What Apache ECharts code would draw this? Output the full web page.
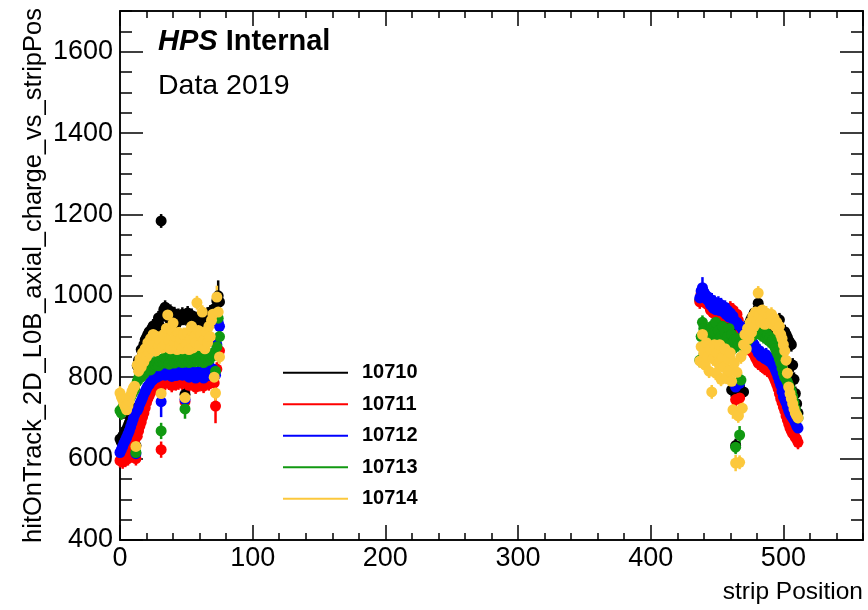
<!DOCTYPE html>
<html>
<head>
<meta charset="utf-8">
<script src="https://cdn.jsdelivr.net/npm/echarts@6/dist/echarts.min.js"></script>
<style>
html, body { margin: 0; padding: 0; background: #fff; }
#chart { width: 868px; height: 610px; }
</style>
</head>
<body>
<div id="chart"></div>
<script>
// runs and colours (ROOT style)
var runs = ['10710', '10711', '10712', '10713', '10714'];
var runColors = ['#000000', '#ff0000', '#0000ff', '#119911', '#fcc83c'];

// strip ranges: left block starts at strip 0, right block at strip 437
var leftStart = 0;
var rightStart = 437;

// mean charge per strip
var left10710 = [648,640,655,660,668,672,680,688,700,706,712,720,632,828,842,838,868,858,880,892,898,905,912,898,920,926,910,930,934,946,925,1184,950,966,972,960,955,944,962,950,940,956,946,936,952,940,948,955,945,758,944,958,950,940,952,946,935,944,940,932,948,938,945,950,936,942,955,948,960,952,958,968,940,988,1000,985];
var left10711 = [595,598,592,600,596,604,600,606,612,620,632,645,600,655,668,680,690,702,712,725,738,748,755,762,770,775,778,782,780,786,784,622,788,792,785,795,790,786,792,780,795,788,784,792,786,790,794,785,790,740,786,792,780,788,795,784,790,776,788,792,782,790,786,778,792,788,796,784,790,795,798,786,729,820,860,865];
var left10712 = [615,622,630,638,645,652,660,668,678,688,698,708,612,718,725,735,742,750,758,765,772,778,782,788,792,795,798,802,800,806,804,740,808,812,805,815,810,806,812,802,815,808,804,812,806,810,812,805,810,745,806,812,800,808,815,804,810,798,808,812,802,810,806,798,812,808,816,804,810,815,820,812,805,880,935,925];
var left10713 = [718,712,725,730,722,735,740,748,752,758,765,770,615,790,798,805,800,812,808,815,820,822,828,818,832,826,835,830,838,828,840,668,842,835,848,838,845,832,850,840,846,835,852,840,844,838,848,836,845,722,840,852,836,848,842,855,838,846,850,840,856,842,848,836,852,846,858,842,850,855,852,860,815,875,945,900];
var left10714 = [761,752,745,735,728,720,730,742,755,765,773,778,630,830,815,845,825,860,838,870,850,885,860,895,870,905,880,865,900,878,890,760,872,905,880,920,953,890,870,915,933,885,900,868,910,880,895,870,905,750,880,910,868,895,925,872,900,885,983,915,878,905,960,890,870,912,885,925,900,940,955,800,761,997,960,850];

var right10710 = [990,1002,1008,998,990,985,990,978,970,980,962,975,960,968,972,958,970,962,955,965,948,958,942,950,769,946,938,632,932,925,762,918,910,764,912,920,925,930,938,945,950,958,945,930,982,940,925,945,930,920,940,928,935,925,938,920,930,915,922,905,941,900,890,875,912,905,898,890,885,880,830,795,760,735,712];
var right10711 = [985,1005,1015,1000,995,980,985,975,965,975,958,970,955,962,968,952,962,955,948,958,945,960,952,970,960,965,950,745,955,940,749,915,905,895,900,885,890,875,880,865,860,855,848,842,835,840,830,835,826,822,830,818,822,812,815,805,798,790,782,772,760,748,738,727,718,705,695,685,675,668,662,658,652,648,640];
var right10712 = [995,1012,1020,1010,1004,992,998,985,978,990,970,984,966,976,982,964,978,968,960,972,954,964,948,958,946,950,938,776,935,928,785,925,918,905,915,900,910,895,905,890,885,880,872,868,860,865,852,858,850,846,855,842,848,838,842,830,825,818,810,800,790,780,765,752,745,738,728,718,710,705,700,695,688,680,675];
var right10713 = [842,900,935,920,890,905,880,915,895,925,880,910,935,890,915,870,900,925,885,910,875,900,920,880,905,870,893,628,895,880,658,793,885,900,875,905,890,895,910,900,915,905,908,915,922,910,905,918,900,912,896,905,890,898,885,892,878,870,862,855,845,835,822,810,800,795,788,780,772,765,752,738,722,708,700];
var right10714 = [840,875,905,860,830,885,850,815,870,764,845,880,810,860,835,880,795,850,825,870,800,845,815,860,790,720,835,589,812,705,591,850,724,880,905,870,920,895,935,910,950,925,960,940,1007,955,935,965,945,930,958,940,950,935,955,930,945,925,935,915,925,905,895,880,865,842,810,776,760,748,735,722,712,706,700];

// error bars: most are hidden under the markers, a few stick out
var defaultErr = 17;
var bigErr = [
  ['10710', 74, 38], ['10712', 31, 38], ['10711', 31, 20], ['10713', 31, 20],
  ['10711', 72, 42], ['10714', 73, 28], ['10714', 72, 25], ['10713', 49, 24],
  ['10712', 439, 26], ['10711', 438, 22], ['10714', 464, 20], ['10713', 467, 22],
  ['10714', 469, 22], ['10714', 462, 22]
];

var leftData = [left10710, left10711, left10712, left10713, left10714];
var rightData = [right10710, right10711, right10712, right10713, right10714];

var fontFam = '"Liberation Sans", Arial, Helvetica, sans-serif';

function errFor(run, strip) {
  for (var k = 0; k < bigErr.length; k++) {
    if (bigErr[k][0] === run && bigErr[k][1] === strip) return bigErr[k][2];
  }
  return defaultErr;
}

function points(r) {
  var pts = [];
  leftData[r].forEach(function (v, i) { pts.push([leftStart + i, v]); });
  rightData[r].forEach(function (v, i) { pts.push([rightStart + i, v]); });
  return pts;
}

var series = [];
runs.forEach(function (run, r) {
  var pts = points(r);
  var col = runColors[r];
  series.push({
    type: 'custom',
    name: run + ' err',
    silent: true,
    xAxisIndex: 0,
    yAxisIndex: 0,
    data: pts.map(function (p) { return [p[0], p[1], errFor(run, p[0])]; }),
    renderItem: function (params, api) {
      var x = api.value(0), y = api.value(1), e = api.value(2);
      var a = api.coord([x, y - e]);
      var b = api.coord([x, y + e]);
      return {
        type: 'line',
        shape: { x1: a[0], y1: a[1], x2: b[0], y2: b[1] },
        style: { stroke: col, lineWidth: 2.5 }
      };
    }
  });
  series.push({
    type: 'scatter',
    name: run,
    xAxisIndex: 0,
    yAxisIndex: 0,
    symbol: 'circle',
    symbolSize: 11,
    itemStyle: { color: col, opacity: 1 },
    data: pts
  });
});

var tickStyle = { color: '#000', width: 1.5 };

function xAx(pos, interval, len, withLabel) {
  var ax = {
    type: 'value', position: pos, min: 0, max: 560, interval: interval,
    axisLine: { show: true, onZero: false, lineStyle: { color: '#000', width: 1.5 } },
    axisTick: { show: true, inside: true, length: len, lineStyle: tickStyle },
    axisLabel: { show: false },
    splitLine: { show: false }
  };
  if (withLabel) {
    ax.axisLabel = { show: true, showMaxLabel: false, fontSize: 27, color: '#000', margin: 5, fontFamily: fontFam,
      formatter: function (v) { return String(v); } };
    ax.name = 'strip Position';
    ax.nameLocation = 'end';
    ax.nameGap = 0;
    ax.nameMoveOverlap = false;
    ax.nameTextStyle = { fontSize: 24.5, color: '#000', fontFamily: fontFam, align: 'right', verticalAlign: 'top', padding: [40, 0, 0, 0] };
  }
  return ax;
}

function yAx(pos, interval, len, withLabel) {
  var ax = {
    type: 'value', position: pos, min: 400, max: 1700, interval: interval,
    axisLine: { show: true, onZero: false, lineStyle: { color: '#000', width: 1.5 } },
    axisTick: { show: true, inside: true, length: len, lineStyle: tickStyle },
    axisLabel: { show: false },
    splitLine: { show: false }
  };
  if (withLabel) {
    ax.axisLabel = { show: true, showMaxLabel: false, fontSize: 27, color: '#000', margin: 7, fontFamily: fontFam,
      formatter: function (v) { return String(v); } };
    ax.name = 'hitOnTrack_2D_L0B_axial_charge_vs_stripPos';
    ax.nameLocation = 'middle';
    ax.nameRotate = 90;
    ax.nameGap = 86;
    ax.nameMoveOverlap = false;
    ax.nameTextStyle = { fontSize: 25.5, color: '#000', fontFamily: fontFam, verticalAlign: 'middle' };
  }
  return ax;
}

var chart = echarts.init(document.getElementById('chart'), null, { renderer: 'canvas' });
var option = {
  backgroundColor: '#ffffff',
  animation: false,
  grid: { left: 120, right: 5, top: 11, bottom: 70 },
  xAxis: [
    xAx('bottom', 100, 15, true),
    xAx('bottom', 20, 7, false),
    xAx('top', 100, 15, false),
    xAx('top', 20, 7, false)
  ],
  yAxis: [
    yAx('left', 200, 23, true),
    yAx('left', 50, 12, false),
    yAx('right', 200, 23, false),
    yAx('right', 50, 12, false)
  ],
  legend: {
    orient: 'vertical',
    left: 283,
    top: 362.7,
    padding: 0,
    itemWidth: 65,
    itemHeight: 2,
    itemGap: 11.5,
    selectedMode: false,
    icon: 'rect',
    data: runs,
    textStyle: { fontFamily: fontFam, fontWeight: 'bold', fontSize: 20, color: '#000', lineHeight: 20, padding: [0, 0, 0, 9] }
  },
  graphic: [
    {
      type: 'text', x: 158, y: 42,
      style: {
        text: '{a|HPS} {b|Internal}',
        verticalAlign: 'middle',
        rich: {
          a: { fontFamily: fontFam, fontSize: 29, fontWeight: 'bold', fontStyle: 'italic', fill: '#000' },
          b: { fontFamily: fontFam, fontSize: 29, fontWeight: 'bold', fill: '#000' }
        },
        fontFamily: fontFam, fontSize: 29, fill: '#000'
      }
    },
    {
      type: 'text', x: 158, y: 86,
      style: { text: 'Data 2019', fontFamily: fontFam, fontSize: 28.5, fill: '#000', verticalAlign: 'middle' }
    }
  ],
  series: series
};
chart.setOption(option);
</script>
</body>
</html>
